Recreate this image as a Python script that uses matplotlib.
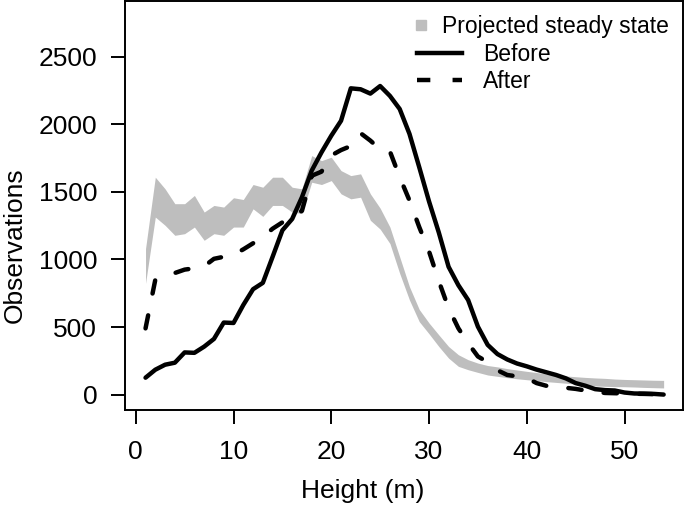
import matplotlib
matplotlib.use("Agg")
import matplotlib.pyplot as plt
from matplotlib.lines import Line2D

# ---- data ----
height = list(range(1, 55))

before = [125, 184, 221, 236, 312, 309, 355, 412, 533, 530,
          663, 780, 827, 1020, 1216, 1300, 1461, 1658, 1793, 1916,
          2027, 2267, 2260, 2228, 2284, 2211, 2114, 1930, 1683, 1430,
          1200, 946, 810, 700, 503, 368, 300, 260, 230, 209,
          185, 165, 145, 120, 85, 65, 40, 33, 30, 15,
          8, 7, 5, 0]

after = [490, 850, 880, 900, 925, 935, 950, 1005, 1020, 1035,
         1075, 1120, 1167, 1228, 1275, 1320, 1360, 1620, 1650, 1770,
         1810, 1840, 1935, 1880, 1815, 1800, 1610, 1437, 1240, 1060,
         840, 640, 491, 380, 282, 240, 180, 145, 135, 123,
         85, 65, 58, 50, 42, 30, 22, 12, 10, 8,
         6, 5, 3, 0]

steady_upper = [1080, 1609, 1523, 1413, 1413, 1474, 1351, 1400, 1388, 1457,
                1444, 1555, 1535, 1609, 1609, 1535, 1523, 1769, 1732, 1757,
                1658, 1621, 1634, 1486, 1380, 1240, 1019, 798, 630, 530,
                442, 356, 295, 258, 233, 215, 205, 192, 182, 172,
                163, 153, 145, 138, 132, 127, 123, 120, 115, 112,
                110, 108, 106, 105]

steady_lower = [823, 1314, 1253, 1179, 1191, 1240, 1142, 1191, 1179, 1240,
                1240, 1375, 1319, 1400, 1400, 1351, 1340, 1572, 1555, 1584,
                1486, 1449, 1461, 1290, 1225, 1118, 897, 700, 540, 450,
                356, 270, 209, 184, 164, 145, 135, 125, 117, 110,
                103, 96, 90, 84, 78, 70, 64, 61, 59, 58,
                56, 53, 51, 49]

xticks = [0, 10, 20, 30, 40, 50]
yticks = [0, 500, 1000, 1500, 2000, 2500]

# ---- figure ----
plt.rcParams['font.family'] = ['Liberation Sans', 'DejaVu Sans']

fig = plt.figure(figsize=(6.85, 5.14), dpi=100)
ax = fig.add_axes([125 / 685, 1 - 409.7 / 514, 557.7 / 685, 408.5 / 514])

grey = '#bebebe'
ax.fill_between(height, steady_lower, steady_upper, color=grey, lw=0)
ax.plot(height, before, color='black', lw=3.2,
        solid_joinstyle='round', solid_capstyle='round')
ax.plot(height, after, color='black', lw=3.2, dashes=(3, 5),
        dash_joinstyle='round', dash_capstyle='round')

ax.set_xlim(-1.1, 55.95)
ax.set_ylim(-112, 2912)
ax.set_xticks(xticks)
ax.set_yticks(yticks)
ax.tick_params(labelsize=19, length=10, width=1.4)
ax.tick_params(axis='x', pad=12)
ax.tick_params(axis='y', pad=10)
for s in ax.spines.values():
    s.set_linewidth(1.4)

ax.set_xlabel('Height (m)', fontsize=19)
ax.set_ylabel('Observations', fontsize=19)
ax.xaxis.set_label_coords(0.427, -0.17)
ax.yaxis.set_label_coords(-0.176, 0.402)

# legend: grey square on its own, the two lines below
h1 = [Line2D([], [], marker='s', color=grey, ls='none', markersize=6.5)]
leg1 = ax.legend(h1, ['Projected steady state'], loc='upper left',
                 bbox_to_anchor=(0.5236, 0.965), frameon=False, fontsize=16.5,
                 borderpad=0, borderaxespad=0, handlelength=0.36,
                 handletextpad=0.72)
ax.add_artist(leg1)
h2 = [Line2D([], [], color='black', lw=3.2),
      Line2D([], [], color='black', lw=3.2, dashes=(3, 5))]
ax.legend(h2, ['Before', 'After'], loc='upper left',
          bbox_to_anchor=(0.5236, 0.898), frameon=False, fontsize=16.5,
          borderpad=0, borderaxespad=0, handlelength=1.97,
          handletextpad=0.9, labelspacing=0.18)

fig.savefig('out.png', dpi=100)
